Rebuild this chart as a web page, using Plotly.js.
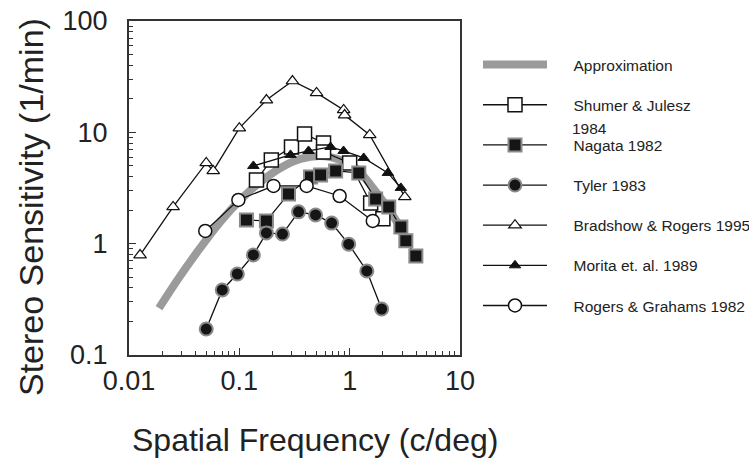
<!DOCTYPE html>
<html>
<head>
<meta charset="utf-8">
<script src="https://cdn.plot.ly/plotly-3.0.1.min.js"></script>
<style>html,body{margin:0;padding:0;background:#fff;}#chart{width:749px;height:470px;}</style>
</head>
<body>
<div id="chart"></div>
<script>
// ---- data ----
var approxX = [0.0187, 0.0291, 0.0442, 0.0672, 0.102, 0.155, 0.236, 0.358, 0.545, 0.828, 1.13, 1.55, 2.12, 2.91];
var approxY = [0.264, 0.513, 0.915, 1.57, 2.47, 3.58, 4.79, 5.77, 6.14, 5.65, 4.79, 3.37, 2.23, 1.38];

var shumerX = [0.143, 0.195, 0.297, 0.390, 0.580, 0.580, 1.00, 1.55, 2.00];
var shumerY = [3.73, 5.65, 7.39, 9.67, 8.03, 6.67, 5.31, 2.32, 1.67];

var nagataX = [0.116, 0.176, 0.279, 0.442, 0.545, 0.746, 1.21, 1.72, 2.26, 2.91, 3.23, 3.98];
var nagataY = [1.63, 1.60, 2.80, 3.97, 4.14, 4.50, 4.32, 2.52, 2.14, 1.41, 1.06, 0.775];

var tylerX = [0.0501, 0.070, 0.0959, 0.134, 0.176, 0.246, 0.344, 0.491, 0.686, 0.98, 1.43, 1.95];
var tylerY = [0.171, 0.384, 0.534, 0.792, 1.25, 1.22, 1.93, 1.81, 1.53, 0.99, 0.569, 0.259];

var bradshowX = [0.0126, 0.0251, 0.0501, 0.058, 0.100, 0.176, 0.303, 0.501, 0.882, 0.90, 1.52, 3.16];
var bradshowY = [0.79, 2.14, 5.31, 4.50, 10.9, 19.5, 28.9, 22.6, 15.9, 14.3, 9.48, 2.63];

var moritaX = [0.134, 0.291, 0.424, 0.671, 0.88, 1.34, 2.22, 2.91];
var moritaY = [4.99, 6.27, 6.80, 7.39, 6.80, 5.89, 4.32, 3.17];

var rogersX = [0.0491, 0.098, 0.204, 0.407, 0.811, 1.62];
var rogersY = [1.30, 2.47, 3.30, 3.30, 2.68, 1.60];

var xTickVals = [0.01, 0.1, 1, 10];
var xTickText = ['0.01', '0.1', '1', '10'];
var yTickVals = [0.1, 1, 10, 100];
var yTickText = ['0.1', '1', '10', '100'];

var seriesNames = ['Approximation', 'Shumer & Julesz', 'Nagata 1982', 'Tyler 1983',
                   'Bradshow & Rogers 1995', 'Morita et. al. 1989', 'Rogers & Grahams 1982'];
var shumerNameLine2 = '1984';
var xTitle = 'Spatial Frequency (c/deg)';
var yTitle = 'Stereo Sensitivity (1/min)';

// ---- styling ----
var pad = '\u00a0\u00a0\u00a0\u00a0\u00a0';
var lineStyle = {color: '#111', width: 1.3};

var traces = [
  {x: approxX, y: approxY, name: pad + seriesNames[0], mode: 'lines', legendgroup: 'g0',
   line: {color: '#9b9b9b', width: 8, shape: 'spline'}},
  {x: shumerX, y: shumerY, name: pad + seriesNames[1], mode: 'lines+markers', legendgroup: 'g1',
   line: lineStyle, marker: {symbol: 'square', size: 14, color: '#fff', line: {color: '#111', width: 1.5}}},
  {x: nagataX, y: nagataY, name: pad + seriesNames[2], mode: 'lines+markers', legendgroup: 'g2',
   line: lineStyle, marker: {symbol: 'square', size: 13, color: '#151515', line: {color: '#8a8a8a', width: 2}}},
  {x: tylerX, y: tylerY, name: pad + seriesNames[3], mode: 'lines+markers', legendgroup: 'g3',
   line: lineStyle, marker: {symbol: 'circle', size: 13, color: '#151515', line: {color: '#8a8a8a', width: 2}}},
  {x: bradshowX, y: bradshowY, name: pad + seriesNames[4], mode: 'lines+markers', legendgroup: 'g4',
   line: lineStyle, marker: {symbol: 'triangle-up', size: 11, color: '#fff', line: {color: '#111', width: 1.2}}},
  {x: moritaX, y: moritaY, name: pad + seriesNames[5], mode: 'lines+markers', legendgroup: 'g5',
   line: lineStyle, marker: {symbol: 'triangle-up', size: 10, color: '#111', line: {color: '#111', width: 1}}},
  {x: rogersX, y: rogersY, name: pad + seriesNames[6], mode: 'lines+markers', legendgroup: 'g6',
   line: lineStyle, marker: {symbol: 'circle', size: 13, color: '#fff', line: {color: '#111', width: 1.5}}}
];

var fontFam = '"Liberation Sans", Arial, Helvetica, sans-serif';

var axisCommon = {
  type: 'log',
  showgrid: false,
  zeroline: false,
  showline: true,
  mirror: true,
  linecolor: '#333',
  linewidth: 2,
  ticks: 'inside',
  ticklen: 7,
  tickwidth: 1.2,
  tickcolor: '#333',
  tickmode: 'array',
  tickfont: {family: fontFam, size: 27, color: '#222'},
  minor: {ticks: 'inside', ticklen: 4, tickwidth: 1, tickcolor: '#333', dtick: 'D1', showgrid: false}
};

var layout = {
  width: 749, height: 470,
  margin: {l: 129, r: 289, t: 21, b: 115},
  paper_bgcolor: '#fff', plot_bgcolor: '#fff',
  showlegend: true,
  xaxis: Object.assign({}, axisCommon, {
    range: [-2, 1],
    tickvals: xTickVals, ticktext: xTickText,
    ticklabelstandoff: 1
  }),
  yaxis: Object.assign({}, axisCommon, {
    range: [-1, 2],
    tickvals: yTickVals, ticktext: yTickText,
    ticklabelstandoff: 14
  }),
  legend: {
    xref: 'container', yref: 'container',
    x: 478 / 749, y: 1 - 48 / 470, xanchor: 'left', yanchor: 'top',
    font: {family: fontFam, size: 15.5, color: '#222'},
    itemwidth: 64,
    tracegroupgap: 17,
    maxheight: 420,
    bgcolor: 'rgba(0,0,0,0)',
    traceorder: 'grouped'
  },
  annotations: [
    {xref: 'paper', yref: 'paper',
     x: (570 - 129) / 331, y: (355 - 128) / 334,
     xanchor: 'left', yanchor: 'middle',
     text: shumerNameLine2, showarrow: false,
     font: {family: fontFam, size: 15.5, color: '#222'}},
    {xref: 'paper', yref: 'paper',
     x: (315 - 129) / 331, y: (355 - 440) / 334,
     xanchor: 'center', yanchor: 'middle',
     text: xTitle, showarrow: false,
     font: {family: fontFam, size: 32, color: '#222'}},
    {xref: 'paper', yref: 'paper',
     x: (31 - 129) / 331, y: (355 - 207) / 334,
     xanchor: 'center', yanchor: 'middle', textangle: -90,
     text: yTitle, showarrow: false,
     font: {family: fontFam, size: 34, color: '#222'}}
  ]
};

Plotly.newPlot('chart', traces, layout, {displayModeBar: false, staticPlot: true});
</script>
</body>
</html>
